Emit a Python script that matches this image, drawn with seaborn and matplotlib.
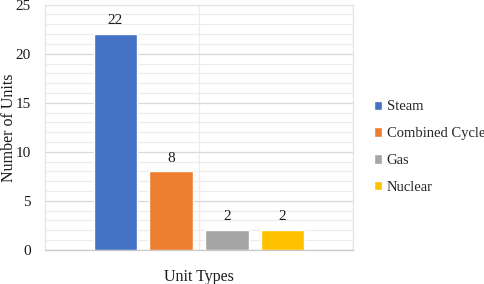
import pandas as pd
import numpy as np
import matplotlib.pyplot as plt
import seaborn as sns
from matplotlib.patches import Patch

unit_types = ["Steam", "Combined Cycle", "Gas", "Nuclear"]
unit_counts = [22, 8, 2, 2]
colors = ["#4472C4", "#ED7D31", "#A5A5A5", "#FFC000"]

df = pd.DataFrame({"Type": unit_types, "Count": unit_counts})

sns.set_style("white")
plt.rcParams["font.family"] = ["Liberation Serif", "DejaVu Serif"]

fig = plt.figure(figsize=(4.84, 2.84), dpi=100)
ax = fig.add_axes([0.093, 0.12, 0.636, 0.8635])

sns.barplot(data=df, x="Type", y="Count", hue="Type", palette=colors,
            order=unit_types, hue_order=unit_types, width=0.78,
            saturation=1, dodge=False, legend=False, ax=ax, zorder=3)

for c in ax.containers:
    ax.bar_label(c, padding=5, fontsize=11, color="#1a1a1a")

ax.set_xlim(-1.26, 4.26)
ax.set_ylim(0, 25)
ax.set_yticks(np.arange(0, 26, 5))
ax.set_yticks(np.arange(0, 26, 1), minor=True)
ax.grid(axis="y", which="major", color="#d9d9d9", linewidth=0.9, zorder=0)
ax.grid(axis="y", which="minor", color="#ececec", linewidth=0.8, zorder=0)
ax.axvline(1.5, color="#ececec", linewidth=0.9, zorder=0)
for s in ["top", "left", "right"]:
    ax.spines[s].set_color("#e3e3e3")
    ax.spines[s].set_linewidth(0.9)
ax.spines["bottom"].set_color("#c8c8c8")
ax.spines["bottom"].set_linewidth(0.9)

ax.set_xticks([])
ax.tick_params(axis="y", length=0, pad=10, labelsize=11, colors="#1a1a1a", which="both")
ax.set_xlabel("Unit Types", fontsize=11.5, color="#1a1a1a", labelpad=14)
ax.set_ylabel("Number of Units", fontsize=11.5, color="#1a1a1a")
ax.yaxis.set_label_coords(-0.09, 0.5)

handles = [Patch(facecolor=c, label=t) for t, c in zip(unit_types, colors)]
fig.legend(handles=handles, loc="center left", bbox_to_anchor=(0.745, 0.482),
           frameon=False, fontsize=10.5, handlelength=0.6, handleheight=0.6,
           handletextpad=0.3, labelspacing=0.95)

fig.savefig("out.png", dpi=100)
